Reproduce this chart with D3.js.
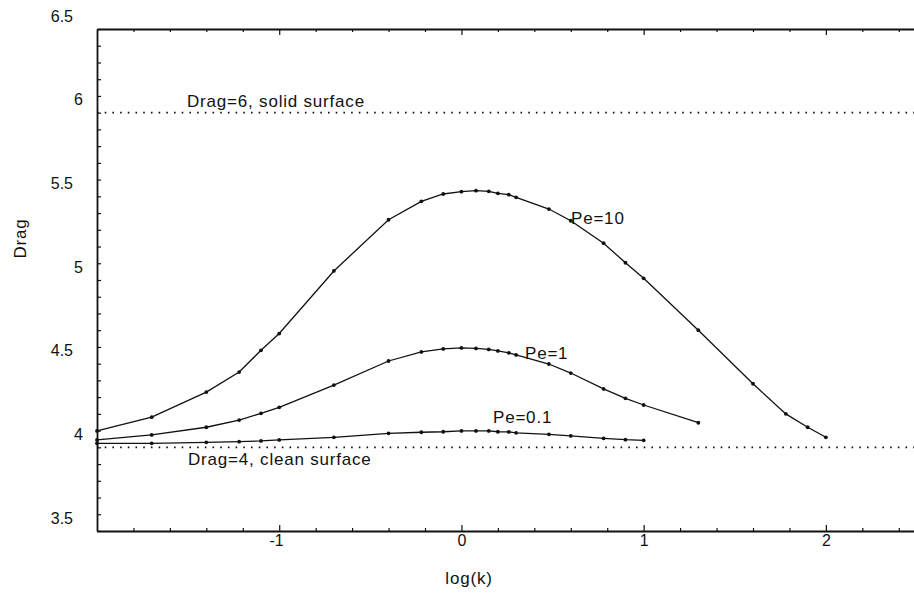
<!DOCTYPE html>
<html>
<head>
<meta charset="utf-8">
<script src="https://cdn.jsdelivr.net/npm/d3@7"></script>
<style>
  body { margin: 0; background: #fff; }
  svg { display: block; font-family: "Liberation Sans", Arial, sans-serif; }
  .ann { font-size: 17px; letter-spacing: 0.8px; fill: #111; }
</style>
</head>
<body>
<svg id="chart" width="914" height="595"></svg>
<script>
// log(k) values of the computed points
const LOGK = [-2, -1.7, -1.4, -1.22, -1.1, -1, -0.7, -0.4, -0.22, -0.1, 0, 0.08, 0.15, 0.2, 0.26, 0.3, 0.48, 0.6, 0.78, 0.9, 1, 1.3, 1.6, 1.78, 1.9, 2];

// drag for each Peclet number (same order as LOGK, shorter series stop early)
const PE10 = [4.098, 4.18, 4.33, 4.45, 4.58, 4.68, 5.054, 5.36, 5.47, 5.514, 5.528, 5.534, 5.53, 5.518, 5.51, 5.494, 5.424, 5.354, 5.22, 5.103, 5.01, 4.70, 4.38, 4.20, 4.12, 4.06];
const PE1 = [4.044, 4.074, 4.12, 4.163, 4.203, 4.239, 4.372, 4.516, 4.57, 4.588, 4.594, 4.591, 4.585, 4.576, 4.565, 4.552, 4.498, 4.444, 4.349, 4.293, 4.253, 4.147];
const PE01 = [4.024, 4.024, 4.030, 4.034, 4.038, 4.044, 4.060, 4.084, 4.090, 4.093, 4.098, 4.098, 4.098, 4.093, 4.092, 4.087, 4.078, 4.068, 4.054, 4.046, 4.042];

// limits (solid / clean surface)
const LIMITS = [6, 4];

// ticks
const X_MAJOR = [-1, 0, 1, 2];
const X_MINOR = [-1.8, -1.6, -1.4, -1.2, -0.8, -0.6, -0.4, -0.2, 0.2, 0.4, 0.6, 0.8, 1.2, 1.4, 1.6, 1.8, 2.2, 2.4];
const Y_MAJOR = [3.5, 4, 4.5, 5, 5.5, 6, 6.5];

const svg = d3.select('#chart');
const ink = '#111';

const x = d3.scaleLinear().domain([-2, 2.5]).range([97, 917]);
const y = d3.scaleLinear().domain([3.5, 6.5]).range([531, 29]);

const yMinor = d3.range(36, 65).map(d => d / 10).filter(d => !Y_MAJOR.includes(d));

// bottom axis
let gb = svg.append('g').attr('transform', 'translate(0,531)');
gb.call(d3.axisBottom(x).tickValues(X_MINOR).tickSize(-3).tickSizeOuter(0).tickFormat(''));
gb.append('g').call(d3.axisBottom(x).tickValues(X_MAJOR).tickSize(-6).tickSizeOuter(0).tickPadding(4).tickFormat(d => String(d)))
  .select('.domain').remove();
gb.selectAll('text').attr('dx', d => d < 0 ? '-0.2em' : 0);

// top axis, no labels
let gt = svg.append('g').attr('transform', 'translate(0,29)');
gt.call(d3.axisTop(x).tickValues(X_MINOR).tickSize(-3).tickSizeOuter(0).tickFormat(''));
gt.append('g').call(d3.axisTop(x).tickValues(X_MAJOR).tickSize(-6).tickSizeOuter(0).tickFormat(''))
  .select('.domain').remove();

// left axis
let gl = svg.append('g').attr('transform', 'translate(97,0)');
gl.call(d3.axisLeft(y).tickValues(yMinor).tickSize(-4).tickSizeOuter(0).tickFormat(''));
let glm = gl.append('g').call(d3.axisLeft(y).tickValues(Y_MAJOR).tickSize(-4).tickSizeOuter(0).tickFormat(d => d));
glm.select('.domain').remove();
// labels in the original sit above their ticks
glm.selectAll('text')
  .attr('x', d => Number.isInteger(d) ? -14 : -24)
  .attr('dy', '0.32em')
  .attr('y', -13);

svg.selectAll('.domain').attr('stroke', ink).attr('stroke-width', 1.8);
svg.selectAll('.tick line').attr('stroke', ink).attr('stroke-width', 1.2);
svg.selectAll('.tick text').attr('fill', ink).attr('font-size', 16)
  .attr('font-family', '"Liberation Sans", Arial, sans-serif');

// dotted limit lines
svg.selectAll('.limit').data(LIMITS).join('line')
  .attr('class', 'limit')
  .attr('x1', x(-2)).attr('x2', 914)
  .attr('y1', d => y(d)).attr('y2', d => y(d))
  .attr('stroke', ink).attr('stroke-width', 1.8)
  .attr('stroke-dasharray', '1.6,6.1');

// curves
const series = [PE10, PE1, PE01].map(vals => vals.map((v, i) => ({k: LOGK[i], v})));
const line = d3.line().x(d => x(d.k)).y(d => y(d.v));

series.forEach(s => {
  svg.append('path').datum(s)
    .attr('d', line)
    .attr('fill', 'none')
    .attr('stroke', ink)
    .attr('stroke-width', 1.3);
  svg.append('g').selectAll('circle').data(s).join('circle')
    .attr('cx', d => x(d.k)).attr('cy', d => y(d.v))
    .attr('r', 1.9).attr('fill', ink);
});

// annotations
svg.append('text').attr('class', 'ann').attr('x', 187).attr('y', 107).text('Drag=6, solid surface');
svg.append('text').attr('class', 'ann').attr('x', 188).attr('y', 465).text('Drag=4, clean surface');
svg.append('text').attr('class', 'ann').attr('x', 571).attr('y', 224).text('Pe=10');
svg.append('text').attr('class', 'ann').attr('x', 525).attr('y', 359).text('Pe=1');
svg.append('text').attr('class', 'ann').attr('x', 493).attr('y', 423).text('Pe=0.1');

// axis titles
svg.append('text').attr('class', 'ann')
  .attr('transform', 'translate(26,238.5) rotate(-90)')
  .attr('text-anchor', 'middle').text('Drag');
svg.append('text').attr('class', 'ann')
  .attr('x', 469).attr('y', 584)
  .attr('text-anchor', 'middle').text('log(k)');
</script>
</body>
</html>
